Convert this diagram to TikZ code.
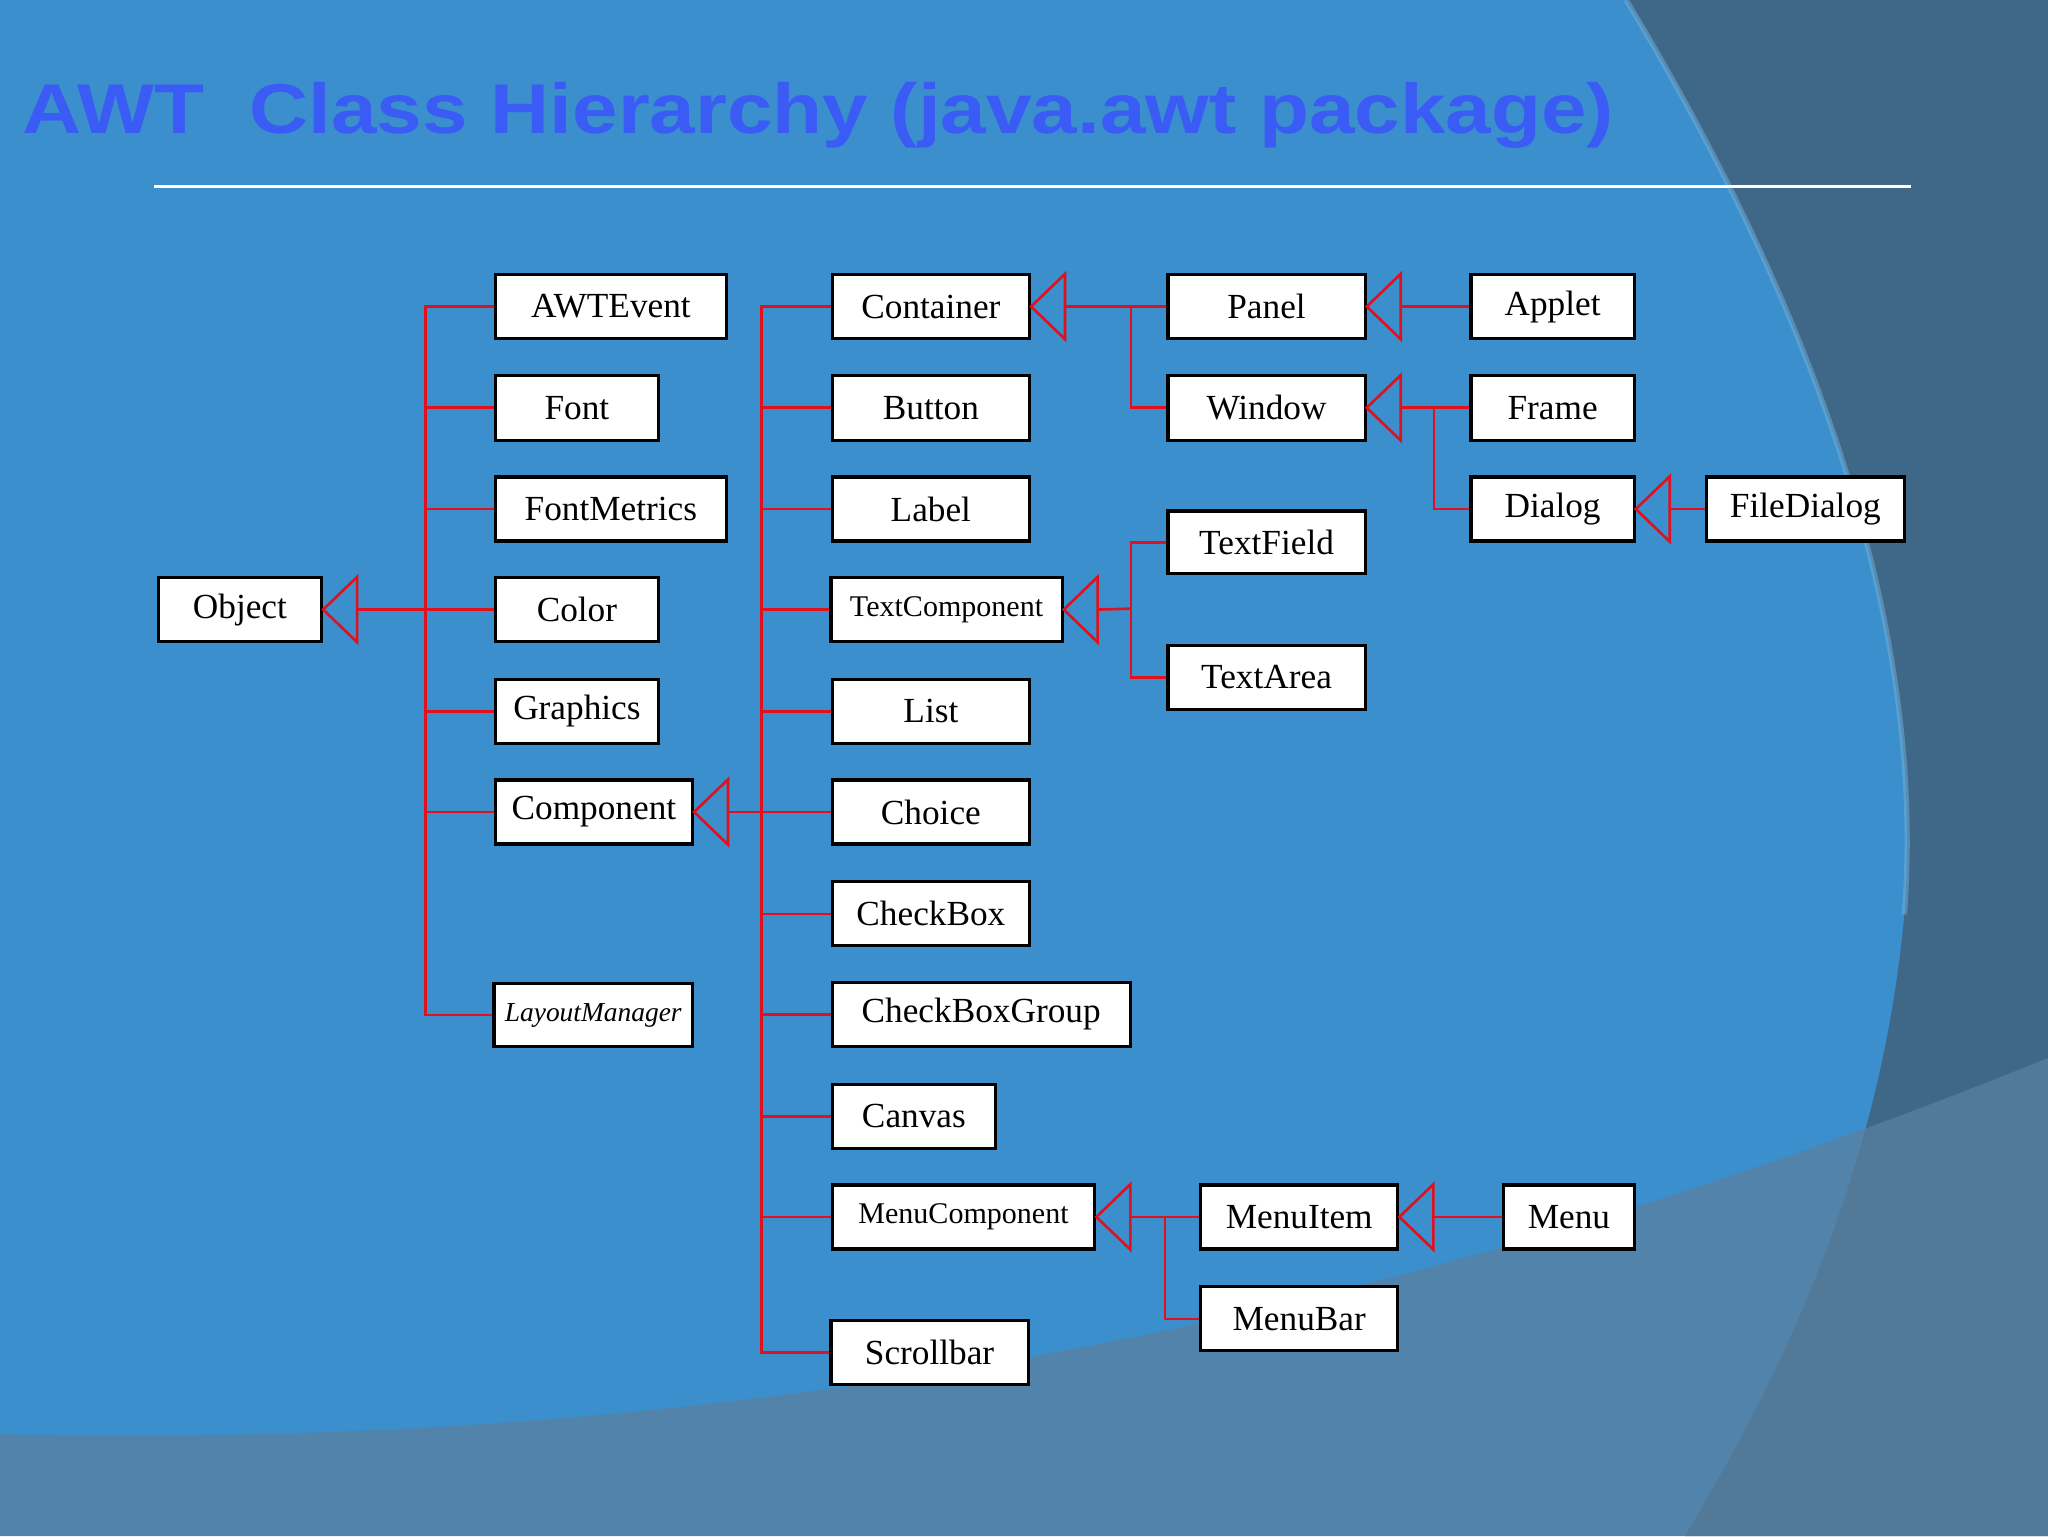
\documentclass[tikz,border=0pt]{standalone}
\usepackage{fontspec}
\setmainfont{Liberation Serif}
\newfontfamily\titlefont{Liberation Sans}
\definecolor{bgblue}{HTML}{3A8FCC}
\definecolor{darkreg}{HTML}{3F6888}
\definecolor{band}{HTML}{5B7FA0}
\definecolor{titleblue}{HTML}{3A5CF5}
\definecolor{lred}{HTML}{E0101E}
\tikzset{
  bx/.style={draw=black,fill=white,line width=2.4pt,inner sep=0pt,anchor=north west,font=\fontsize{27}{27}\selectfont},
  lnk/.style={draw=lred,line width=2pt},
  tri/.style={draw=lred,line width=2pt,line join=miter}
}
\newcommand\mybox[6]{\node[bx,minimum width=#4-#2,minimum height=#5-#3] (#1) at (#2,#3) {#6};}
\newcommand\mytri[2]{\draw[tri] (#1.east) -- ++(26,-25) -- ++(0,50) -- cycle; \coordinate (#2) at ([xshift=26pt]#1.east);}
\begin{document}
\begin{tikzpicture}[x=1pt,y=-1pt]
\useasboundingbox (0,0) rectangle (1568,1176);
\fill[bgblue] (0,0) rectangle (1568,1176);
\fill[darkreg] (1245,0) .. controls (1390,240) and (1475,480) .. (1458,700) .. controls (1440,900) and (1360,1060) .. (1290,1176) -- (1568,1176) -- (1568,0) -- cycle;
\fill[band,opacity=0.75] (0,1098) .. controls (600,1112) and (1100,1000) .. (1568,810) -- (1568,1176) -- (0,1176) -- cycle;
\draw[bgblue!70!white,line width=4pt,opacity=0.5] (1245,0) .. controls (1390,240) and (1475,480) .. (1458,700);
\node[anchor=west,text=titleblue,font=\titlefont\bfseries\fontsize{54}{54}\selectfont,inner sep=0pt] (title) at (17,88) {\scalebox{1.16}[1]{AWT\ \ Class Hierarchy (java.awt package)}};
\draw[white,line width=2pt] (118,143) -- (1463,143);
% boxes
\mybox{obj}{120}{441}{245}{490}{Object}
\mybox{awt}{378}{209}{555}{258}{AWTEvent}
\mybox{font}{378}{286}{503}{336}{Font}
\mybox{fm}{378}{364}{555}{413}{FontMetrics}
\mybox{col}{378}{441}{503}{490}{Color}
\mybox{gr}{378}{519}{503}{568}{Graphics}
\mybox{comp}{378}{596}{529}{645}{Component}
\mybox{lm}{377}{752}{529}{800}{\fontsize{21}{21}\selectfont\itshape LayoutManager}
\mybox{cont}{636}{209}{787}{258}{Container}
\mybox{but}{636}{286}{787}{336}{Button}
\mybox{lab}{636}{364}{787}{413}{Label}
\mybox{tc}{635}{441}{812}{490}{\fontsize{23}{23}\selectfont TextComponent}
\mybox{list}{636}{519}{787}{568}{List}
\mybox{cho}{636}{596}{787}{645}{Choice}
\mybox{cb}{636}{674}{787}{723}{CheckBox}
\mybox{cbg}{636}{751}{864}{800}{CheckBoxGroup}
\mybox{can}{636}{829}{761}{878}{Canvas}
\mybox{mc}{636}{906}{837}{955}{\fontsize{23}{23}\selectfont MenuComponent}
\mybox{sb}{635}{1010}{786}{1059}{Scrollbar}
\mybox{pan}{893}{209}{1044}{258}{Panel}
\mybox{win}{893}{286}{1044}{336}{Window}
\mybox{tf}{893}{390}{1044}{438}{TextField}
\mybox{ta}{893}{493}{1044}{542}{TextArea}
\mybox{mi}{918}{906}{1069}{955}{MenuItem}
\mybox{mb}{918}{984}{1069}{1033}{MenuBar}
\mybox{app}{1125}{209}{1250}{258}{Applet}
\mybox{fr}{1125}{286}{1250}{336}{Frame}
\mybox{dia}{1125}{364}{1250}{413}{Dialog}
\mybox{fd}{1305}{364}{1457}{413}{FileDialog}
\mybox{menu}{1150}{906}{1250}{955}{Menu}
% triangles
\mytri{obj}{tobj}
\mytri{comp}{tcomp}
\mytri{cont}{tcont}
\mytri{pan}{tpan}
\mytri{win}{twin}
\mytri{dia}{tdia}
\mytri{tc}{ttc}
\mytri{mc}{tmc}
\mytri{mi}{tmi}
% Object bus
\draw[lnk] (tobj) -- (col.west);
\foreach \n in {awt,font,fm,gr,comp,lm} \draw[lnk] (\n.west) -| (326,466);
% Component bus
\draw[lnk] (tcomp) -- (cho.west);
\foreach \n in {cont,but,lab,tc,list,cb,cbg,can,mc,sb} \draw[lnk] (\n.west) -| (583,621);
% Container
\draw[lnk] (tcont) -- (pan.west);
\draw[lnk] (win.west) -| (866,235);
% Panel, Window
\draw[lnk] (tpan) -- (app.west);
\draw[lnk] (twin) -- (fr.west);
\draw[lnk] (dia.west) -| (1098,312);
\draw[lnk] (tdia) -- (fd.west);
% TextComponent
\draw[lnk] (ttc) -- (866,466);
\draw[lnk] (tf.west) -| (866,466);
\draw[lnk] (ta.west) -| (866,466);
% MenuComponent
\draw[lnk] (tmc) -- (mi.west);
\draw[lnk] (mb.west) -| (892,932);
\draw[lnk] (tmi) -- (menu.west);
\end{tikzpicture}
\end{document}
